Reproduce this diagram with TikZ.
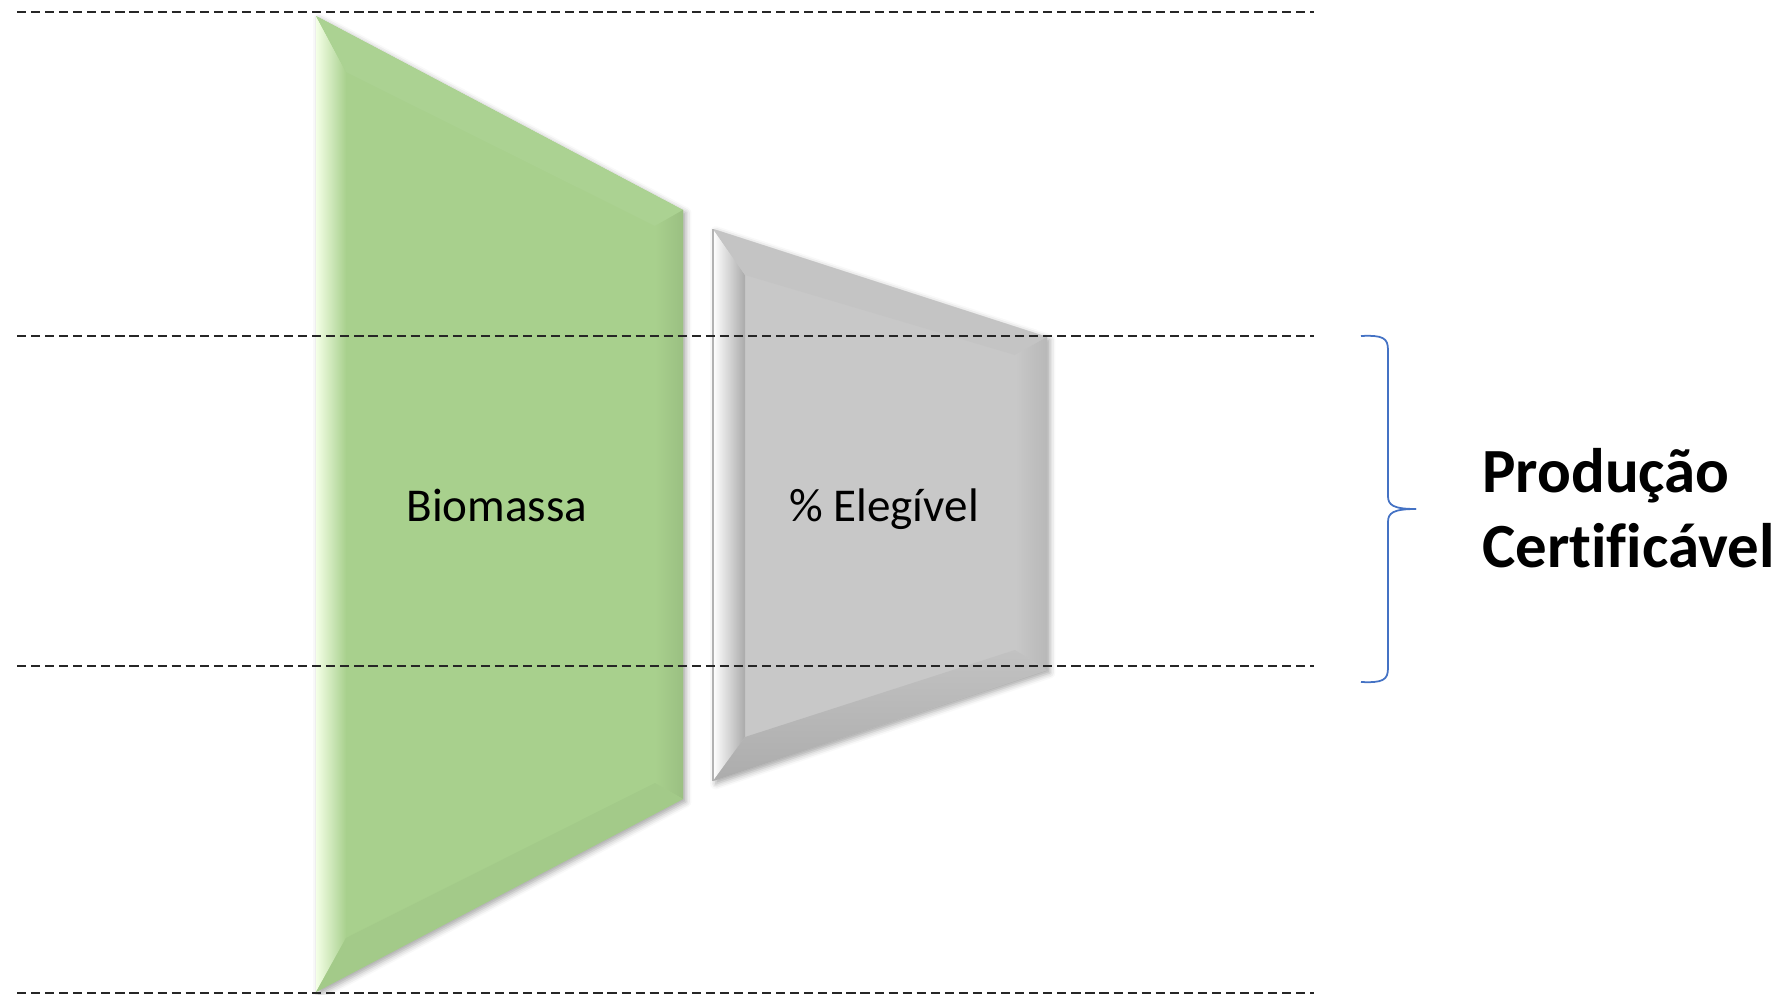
\documentclass[tikz,border=0pt]{standalone}
\usepackage{fontspec}
\setmainfont[Ligatures=NoCommon]{Carlito}
\usetikzlibrary{shadows.blur}

\definecolor{bioGreen}{HTML}{A8D08D}
\definecolor{bioLight}{HTML}{F4FFE6}
\definecolor{elegGray}{HTML}{C8C8C8}
\definecolor{braceBlue}{HTML}{4472C4}

\tikzset{
    guide/.style={dash pattern=on 2.6pt off 1.4pt, line width=0.6pt, black!85},
    label/.style={font=\fontsize{13.4pt}{16pt}\selectfont, anchor=base},
    result/.style={font=\fontsize{17.9pt}{21pt}\selectfont\bfseries, anchor=base west},
    soft/.style={blur shadow={shadow xshift=0.8pt, shadow yshift=-0.8pt, shadow blur radius=1.6pt, shadow opacity=35}}
}

\begin{document}
\begin{tikzpicture}[x=0.1mm, y=-0.1mm]
    \useasboundingbox (0,0) rectangle (1784,995);

    % Biomassa
    \fill[bioGreen, soft] (316,16) -- (683,210) -- (683,799) -- (316,992) -- cycle;
    \shade[left color=bioLight, right color=bioGreen] (316,16) -- (346,72) -- (346,938) -- (316,992) -- cycle;
    \fill[bioGreen!96!white] (316,16) -- (683,210) -- (655,226) -- (346,72) -- cycle;
    \shade[left color=bioGreen, right color=bioGreen!92!black] (683,210) -- (655,226) -- (655,783) -- (683,799) -- cycle;
    \fill[bioGreen!97!black] (316,992) -- (683,799) -- (655,783) -- (346,938) -- cycle;

    % % Elegivel
    \fill[elegGray, soft] (713,229) -- (1047,337) -- (1047,670) -- (713,781) -- cycle;
    \shade[left color=white, right color=elegGray!85!black] (713,229) -- (745,275) -- (745,737) -- (713,781) -- cycle;
    \fill[elegGray!98!black] (713,229) -- (1047,337) -- (1015,355) -- (745,275) -- cycle;
    \shade[left color=elegGray, right color=elegGray!92!black] (1047,337) -- (1015,355) -- (1015,650) -- (1047,670) -- cycle;
    \shade[top color=elegGray!97!black, bottom color=elegGray!86!black] (713,781) -- (745,737) -- (1015,650) -- (1047,670) -- cycle;
    \draw[black!30, line width=0.3pt] (713,229) -- (713,781);

    % guide lines
    \foreach \y in {12,336,666,993}
        \draw[guide] (17,\y) -- (1314,\y);

    \node[label] (bio) at (497,521) {Biomassa};
    \node[label] (eleg) at (884,521) {\% Elegível};

    % brace
    \draw[braceBlue, line width=0.5pt] (1361,336) .. controls (1383,335) and (1388,338) .. (1388,350)
        -- (1388,496) .. controls (1388,505) and (1393,509) .. (1416,509);
    \draw[braceBlue, line width=0.5pt] (1416,509) .. controls (1393,509) and (1388,513) .. (1388,522)
        -- (1388,668) .. controls (1388,680) and (1383,683) .. (1361,682);

    \node[result] (prod) at (1470,492) {Produção};
    \node[result] (cert) at (1470,567) {Certificável};
\end{tikzpicture}
\end{document}
